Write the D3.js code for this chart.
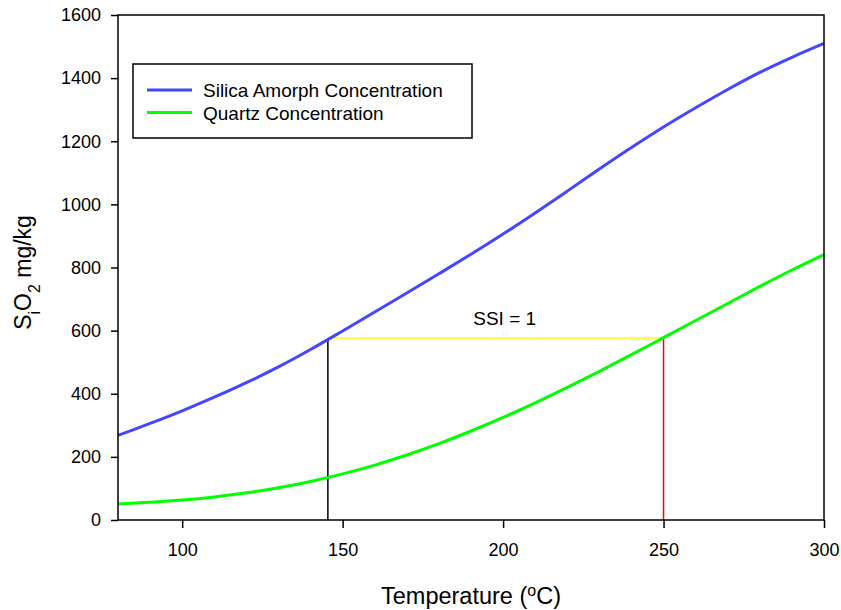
<!DOCTYPE html>
<meta charset="utf-8">
<style>
  body { margin: 0; background: #fff; }
  text { font-family: "Liberation Sans", Arial, sans-serif; fill: #000; }
  .frame { fill: none; stroke: #000; stroke-width: 1.5px; }
  .axis path { display: none; }
  .axis line { stroke: #000; stroke-width: 1.5px; }
  .axis text { font-size: 18px; }
</style>
<body>
<script src="https://d3js.org/d3.v7.min.js"></script>
<script>
  // temperature (C) and silica solubility (mg/kg)
  var temps = [80, 90, 100, 110, 120, 130, 140, 150, 160, 170, 180, 190,
    200, 210, 220, 230, 240, 250, 260, 270, 280, 290, 300];
  var amorph = [268, 306, 346, 389, 435, 485, 540, 599, 659, 719, 780, 842,
    906, 973, 1042, 1112, 1180, 1245, 1306, 1364, 1418, 1466, 1510];
  var quartz = [51, 56, 63, 73, 86, 102, 122, 146, 174, 206, 242, 282,
    325, 371, 420, 471, 524, 578, 632, 686, 740, 792, 841];

  var xTicks = [100, 150, 200, 250, 300];
  var yTicks = [0, 200, 400, 600, 800, 1000, 1200, 1400, 1600];

  // SSI = 1 marker: same concentration on both curves
  var ssiLevel = 577, ssiAmorphT = 145.4, ssiQuartzT = 250;

  var margin = { top: 15, right: 17, bottom: 90, left: 118 },
    width = 841 - margin.left - margin.right,
    height = 610 - margin.top - margin.bottom;

  var x = d3.scaleLinear().domain([80, 300]).range([0, width]);
  var y = d3.scaleLinear().domain([0, 1600]).range([height, 0]);

  var svg = d3.select("body").append("svg")
    .attr("width", 841)
    .attr("height", 610)
    .append("g")
    .attr("transform", "translate(" + margin.left + "," + margin.top + ")");

  // axes (ticks outside)
  svg.append("g")
    .attr("class", "axis")
    .attr("transform", "translate(0," + height + ")")
    .call(d3.axisBottom(x).tickValues(xTicks).tickSize(8).tickPadding(15));

  svg.append("g")
    .attr("class", "axis")
    .call(d3.axisLeft(y).tickValues(yTicks).tickFormat(d3.format("d"))
      .tickSize(7).tickPadding(10));

  // reference lines
  svg.append("line")
    .attr("x1", x(ssiAmorphT)).attr("x2", x(ssiQuartzT))
    .attr("y1", y(ssiLevel)).attr("y2", y(ssiLevel))
    .attr("stroke", "#ffff00").attr("stroke-width", 1.5);
  svg.append("line")
    .attr("x1", x(ssiAmorphT)).attr("x2", x(ssiAmorphT))
    .attr("y1", y(ssiLevel)).attr("y2", y(0))
    .attr("stroke", "#000").attr("stroke-width", 1.5);
  svg.append("line")
    .attr("x1", x(ssiQuartzT)).attr("x2", x(ssiQuartzT))
    .attr("y1", y(ssiLevel)).attr("y2", y(0))
    .attr("stroke", "#ff0000").attr("stroke-width", 1.5);

  svg.append("text")
    .attr("x", x((ssiAmorphT + ssiQuartzT) / 2) + 9)
    .attr("y", y(ssiLevel) - 13)
    .attr("text-anchor", "middle")
    .style("font-size", "19px")
    .text("SSI = 1");

  // curves
  var line = d3.line()
    .x(function (d) { return x(d[0]); })
    .y(function (d) { return y(d[1]); })
    .curve(d3.curveCatmullRom);

  svg.append("path")
    .datum(d3.zip(temps, amorph))
    .attr("fill", "none").attr("stroke", "#4646ff").attr("stroke-width", 3)
    .attr("d", line);

  svg.append("path")
    .datum(d3.zip(temps, quartz))
    .attr("fill", "none").attr("stroke", "#00ff00").attr("stroke-width", 3)
    .attr("d", line);

  // frame
  svg.append("rect")
    .attr("class", "frame")
    .attr("width", width).attr("height", height);

  // legend
  var legend = svg.append("g").attr("transform", "translate(15,49)");
  legend.append("rect")
    .attr("width", 339).attr("height", 74)
    .attr("fill", "#fff").attr("stroke", "#000").attr("stroke-width", 1.5);
  var items = [["Silica Amorph Concentration", "#4646ff"], ["Quartz Concentration", "#00ff00"]];
  items.forEach(function (it, i) {
    var ly = 26 + i * 22.5;
    legend.append("line")
      .attr("x1", 14).attr("x2", 59).attr("y1", ly).attr("y2", ly)
      .attr("stroke", it[1]).attr("stroke-width", 3);
    legend.append("text")
      .attr("x", 70).attr("y", ly + 7)
      .style("font-size", "19px")
      .text(it[0]);
  });

  // axis titles
  var xt = svg.append("text")
    .attr("x", width / 2).attr("y", height + 84)
    .attr("text-anchor", "middle")
    .style("font-size", "23.5px");
  xt.append("tspan").text("Temperature (");
  xt.append("tspan").attr("baseline-shift", "super").style("font-size", "16px").text("o");
  xt.append("tspan").text("C)");

  var yt = svg.append("text")
    .attr("transform", "translate(" + (-87) + "," + (height / 2 + 5) + ") rotate(-90)")
    .attr("text-anchor", "middle")
    .style("font-size", "23px");
  yt.append("tspan").text("S");
  yt.append("tspan").attr("baseline-shift", "sub").style("font-size", "16px").text("i");
  yt.append("tspan").text("O");
  yt.append("tspan").attr("baseline-shift", "sub").style("font-size", "16px").text("2");
  yt.append("tspan").text(" mg/kg");
</script>
</body>
